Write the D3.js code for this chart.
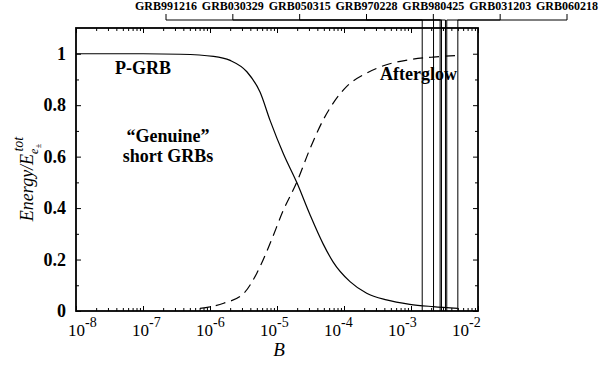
<!DOCTYPE html>
<html>
<head>
<meta charset="utf-8">
<script src="https://cdn.jsdelivr.net/npm/d3@7"></script>
<style>
  body { margin: 0; background: #fff; }
  svg { display: block; font-family: "Liberation Serif", "Times New Roman", Times, "DejaVu Serif", serif; }
  .tick line { stroke: #000; }
  .grbLabel { font-weight: bold; font-size: 12px; }
  .note { font-weight: bold; font-size: 18px; }
  .ytl { font-weight: bold; font-size: 18px; }
  .xtl { font-size: 17px; }
  .ital { font-style: italic; }
</style>
</head>
<body>
<div id="container"></div>
<script>
// P-GRB (solid) and afterglow (dashed) energy fractions vs B
var pgrbB = [1e-8, 1e-7, 3.6e-7, 1.13e-6, 2.0e-6, 3.55e-6, 5.6e-6, 7.9e-6, 1.25e-5, 1.97e-5,
             3.1e-5, 4.9e-5, 6.9e-5, 1.23e-4, 2.18e-4, 4.3e-4, 9.6e-4, 2.14e-3, 5.0e-3];
var pgrbE = [1.0, 1.0, 0.998, 0.99, 0.974, 0.93, 0.85, 0.74, 0.61, 0.50,
             0.375, 0.26, 0.19, 0.114, 0.069, 0.043, 0.026, 0.017, 0.01];
var afterB = [7.1e-7, 1.6e-6, 3.2e-6, 5.0e-6, 7.9e-6, 1.25e-5, 1.97e-5, 3.1e-5, 4.9e-5,
              6.9e-5, 1.1e-4, 2.18e-4, 4.3e-4, 9.6e-4, 2.14e-3, 5.0e-3];
var afterE = [0.01, 0.03, 0.069, 0.147, 0.263, 0.393, 0.50, 0.63, 0.743,
              0.808, 0.873, 0.925, 0.957, 0.977, 0.987, 0.993];

var grbNames = ["GRB991216", "GRB030329", "GRB050315", "GRB970228", "GRB980425", "GRB031203", "GRB060218"];
var grbB = [1.47e-3, 2.17e-3, 2.72e-3, 2.85e-3, 3.27e-3, 3.42e-3, 5.0e-3];

var xDecades = [-8, -7, -6, -5, -4, -3, -2];
var yTicks = [0, 0.2, 0.4, 0.6, 0.8, 1];
var yTickLabels = ["0", "0.2", "0.4", "0.6", "0.8", "1"];

var width = 608, height = 370;
var margin = { top: 28, right: 130, bottom: 59, left: 76 };

var x = d3.scaleLog()
  .domain([1e-8, 1e-2])
  .range([margin.left, width - margin.right]);
var y = d3.scaleLinear()
  .domain([0, 1.1])
  .range([height - margin.bottom, margin.top]);
var grbX = d3.scalePoint()
  .domain(grbNames)
  .range([166, 567]);
// decade labels sit on a slightly tighter spacing than the ticks
var xLabelPos = d3.scaleLinear()
  .domain([-8, -2])
  .range([68, 452]);

var chart = d3.select("#container")
  .append("svg")
    .attr("width", width)
    .attr("height", height);

var majorX = xDecades.map(function(e) { return Math.pow(10, e); });
var minorX = [];
xDecades.slice(0, -1).forEach(function(e) {
  for (var k = 2; k <= 9; k++) minorX.push(k * Math.pow(10, e));
});
var minorY = [0.1, 0.3, 0.5, 0.7, 0.9];

function axisGroup(axis, tx, ty) {
  var g = chart.append("g")
    .attr("transform", "translate(" + tx + "," + ty + ")")
    .call(axis);
  g.select(".domain").remove();
  g.selectAll("text").remove();
  return g;
}
var x0 = margin.left, x1 = width - margin.right;
var y0 = height - margin.bottom, y1 = margin.top;
axisGroup(d3.axisBottom(x).tickValues(majorX).tickSize(-5), 0, y0);
axisGroup(d3.axisBottom(x).tickValues(minorX).tickSize(-3), 0, y0);
axisGroup(d3.axisTop(x).tickValues(majorX).tickSize(-5), 0, y1);
axisGroup(d3.axisTop(x).tickValues(minorX).tickSize(-3), 0, y1);
axisGroup(d3.axisLeft(y).tickValues(yTicks).tickSize(-5), x0, 0);
axisGroup(d3.axisLeft(y).tickValues(minorY).tickSize(-3), x0, 0);
axisGroup(d3.axisRight(y).tickValues(yTicks).tickSize(-5), x1, 0);
axisGroup(d3.axisRight(y).tickValues(minorY).tickSize(-3), x1, 0);

// curves
var line = d3.line()
  .x(function(d) { return x(d[0]); })
  .y(function(d) { return y(d[1]); })
  .curve(d3.curveMonotoneX);
chart.append("path")
  .attr("d", line(d3.zip(pgrbB, pgrbE)))
  .attr("fill", "none")
  .attr("stroke", "#000")
  .attr("stroke-width", 1.2);
chart.append("path")
  .attr("d", line(d3.zip(afterB, afterE)))
  .attr("fill", "none")
  .attr("stroke", "#000")
  .attr("stroke-width", 1.2)
  .attr("stroke-dasharray", "10,6");

// GRB markers with leaders up to the labels
var leaderY = 20;
grbNames.forEach(function(name, i) {
  var lx = grbX(name), bx = x(grbB[i]);
  chart.append("path")
    .attr("d", "M" + lx + ",14V" + leaderY + "H" + bx + "V" + y0)
    .attr("fill", "none")
    .attr("stroke", "#000")
    .attr("stroke-width", 1);
  chart.append("text")
    .classed("grbLabel", true)
    .attr("x", lx)
    .attr("y", 10)
    .attr("text-anchor", "middle")
    .text(name);
});

// frame
chart.append("rect")
  .attr("x", x0)
  .attr("y", y1)
  .attr("width", x1 - x0)
  .attr("height", y0 - y1)
  .attr("fill", "none")
  .attr("stroke", "#000")
  .attr("stroke-width", 1.8);

// tick labels
chart.selectAll(".ytl")
  .data(yTicks)
  .enter().append("text")
    .classed("ytl", true)
    .attr("x", x0 - 10)
    .attr("y", function(d) { return y(d) + 6; })
    .attr("text-anchor", "end")
    .text(function(d, i) { return yTickLabels[i]; });
var xtl = chart.selectAll(".xtl")
  .data(xDecades)
  .enter().append("text")
    .classed("xtl", true)
    .attr("x", function(d) { return xLabelPos(d); })
    .attr("y", 336);
xtl.append("tspan").text("10");
xtl.append("tspan")
  .attr("dy", -9)
  .style("font-size", "14px")
  .text(function(d) { return String(d); });

// axis titles
chart.append("text")
  .classed("ital", true)
  .attr("x", 279)
  .attr("y", 356)
  .attr("text-anchor", "middle")
  .style("font-size", "19px")
  .text("B");
var yt = chart.append("text")
  .classed("ital", true)
  .attr("transform", "translate(33,179) rotate(-90)")
  .attr("text-anchor", "middle")
  .style("font-size", "18px");
yt.append("tspan").text("Energy/E");
yt.append("tspan").attr("dy", 5).style("font-size", "12px").text("e");
yt.append("tspan").attr("dy", 3).style("font-size", "9px").text("±");
yt.append("tspan").attr("dx", -8).attr("dy", -18).style("font-size", "14px").text("tot");

// annotations
chart.append("text").classed("note", true).attr("x", 115).attr("y", 74).text("P-GRB");
chart.append("text").classed("note", true).attr("x", 168).attr("y", 142)
  .attr("text-anchor", "middle").text("\u201cGenuine\u201d");
chart.append("text").classed("note", true).attr("x", 168).attr("y", 162)
  .attr("text-anchor", "middle").text("short GRBs");
chart.append("text").classed("note", true).attr("x", 380).attr("y", 80).text("Afterglow");
</script>
</body>
</html>
